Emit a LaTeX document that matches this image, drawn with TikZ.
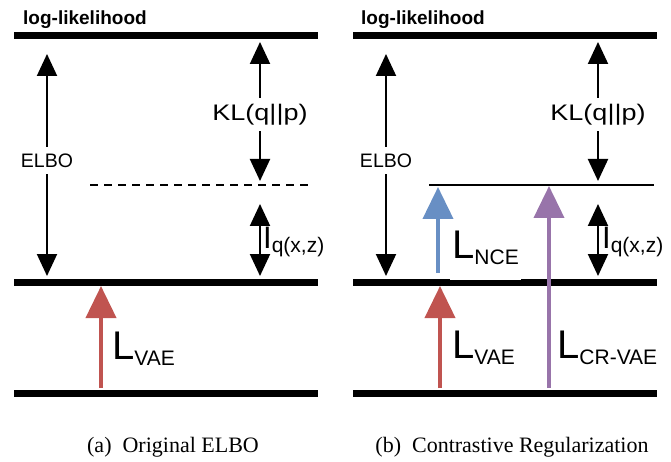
\documentclass[tikz,border=0pt]{standalone}
\usepackage{fontspec}
\setmainfont{Liberation Sans}
\newfontfamily\capfont{Liberation Serif}
\newfontfamily\widefont[FakeStretch=1.2]{Liberation Sans}
\usetikzlibrary{arrows.meta}

\definecolor{vaered}{RGB}{192,84,80}
\definecolor{nceblue}{RGB}{104,143,196}
\definecolor{crpurple}{RGB}{152,116,170}

% big L with a lowered subscript
\newcommand{\lossname}[1]{{\fontsize{40}{40}\selectfont L}\raisebox{-6pt}{\fontsize{21}{21}\selectfont #1}}
% I with q(x,z) below
\newcommand{\minfo}{{\fontsize{31}{31}\selectfont I}\raisebox{-4pt}{\fontsize{21}{21}\selectfont q(x,z)}}

\begin{document}
\begin{tikzpicture}[
    x=1pt, y=-1pt, % pixel-like coordinates, origin top left
    % Style definitions
    level line/.style={line width=7pt},
    bound line/.style={line width=1.8pt},
    gap arrow/.style={line width=2pt, {Triangle[width=20pt,length=22pt]}-{Triangle[width=20pt,length=22pt]}},
    loss arrow/.style={line width=4pt, -{Triangle[width=30pt,length=32pt]}},
    % Text styles
    title text/.style={font=\bfseries\fontsize{19}{19}\selectfont, anchor=base west, inner sep=0pt},
    elbo text/.style={font=\fontsize{19.5}{19.5}\selectfont, fill=white, inner xsep=2pt, inner ysep=7pt},
    kl text/.style={font=\widefont\fontsize{22.5}{22.5}\selectfont, fill=white, inner xsep=2pt, inner ysep=6pt},
    mi text/.style={anchor=base west, inner sep=0pt},
    loss text/.style={anchor=base west, inner sep=0pt},
    caption text/.style={font=\capfont\fontsize{22}{22}\selectfont}
]
\useasboundingbox (0,0) rectangle (671,462);

% ==========================================
% 1. ORIGINAL ELBO (Left)
% ==========================================

\node[title text] (ll a) at (23,25) {log-likelihood};

% Levels
\draw[level line] (14,36) -- (318,36);
\draw[level line] (14,282) -- (318,282);
\draw[level line] (14,393) -- (318,393);
\draw[bound line, dash pattern=on 8pt off 6pt] (90,185) -- (312,185);

% End points
\coordinate (elbo top a) at (47,54);
\coordinate (elbo bot a) at (47,276);
\coordinate (kl top a) at (260,42);
\coordinate (kl bot a) at (260,181);
\coordinate (mi top a) at (260,204);
\coordinate (mi bot a) at (260,276);
\coordinate (vae start a) at (101,388);
\coordinate (vae end a) at (101,286);

% Gap arrows
\draw[gap arrow] (elbo top a) -- node[elbo text, pos=0.48] (elbo a) {ELBO} (elbo bot a);
\draw[gap arrow] (kl top a) -- node[kl text, pos=0.52] (kl a) {KL(q||p)} (kl bot a);
\draw[gap arrow] (mi top a) -- (mi bot a);
\node[mi text] (mi a) at (263,248) {\minfo};

% Loss arrow
\draw[loss arrow, vaered] (vae start a) -- (vae end a);
\node[loss text] (vae a) at (112,359) {\lossname{VAE}};

\node[caption text] (cap a) at (173,447) {(a)\ \ Original ELBO};

% ==========================================
% 2. CONTRASTIVE REGULARIZATION (Right)
% ==========================================

\begin{scope}[shift={(339,0)}]
    \node[title text] (ll b) at (22,25) {log-likelihood};

    % Levels
    \draw[level line] (14,36) -- (318,36);
    \draw[level line] (14,282) -- (318,282);
    \draw[level line] (14,393) -- (318,393);
    \draw[bound line] (90,185) -- (315,185);

    % End points
    \coordinate (elbo top b) at (47,54);
    \coordinate (elbo bot b) at (47,276);
    \coordinate (kl top b) at (259,42);
    \coordinate (kl bot b) at (259,181);
    \coordinate (mi top b) at (259,204);
    \coordinate (mi bot b) at (259,276);
    \coordinate (vae start b) at (101,388);
    \coordinate (vae end b) at (101,286);
    \coordinate (nce start b) at (99,273);
    \coordinate (nce end b) at (99,187);
    \coordinate (cr start b) at (210,388);
    \coordinate (cr end b) at (210,186);

    % Gap arrows
    \draw[gap arrow] (elbo top b) -- node[elbo text, pos=0.48] (elbo b) {ELBO} (elbo bot b);
    \draw[gap arrow] (kl top b) -- node[kl text, pos=0.52] (kl b) {KL(q||p)} (kl bot b);
    \draw[gap arrow] (mi top b) -- (mi bot b);
    \node[mi text] (mi b) at (263,248) {\minfo};

    % Loss arrows
    \draw[loss arrow, vaered] (vae start b) -- (vae end b);
    \draw[loss arrow, nceblue] (nce start b) -- (nce end b);
    \draw[loss arrow, crpurple] (cr start b) -- (cr end b);
    \node[loss text, fill=white, inner xsep=2pt, inner ysep=2pt, text depth=20pt] (nce b) at (111,258) {\lossname{NCE}};
    \node[loss text] (vae b) at (113,358) {\lossname{VAE}};
    \node[loss text] (cr b) at (218,358) {\lossname{CR-VAE}};

    \node[caption text] (cap b) at (173,447) {(b)\ \ Contrastive Regularization};
\end{scope}

\end{tikzpicture}
\end{document}
